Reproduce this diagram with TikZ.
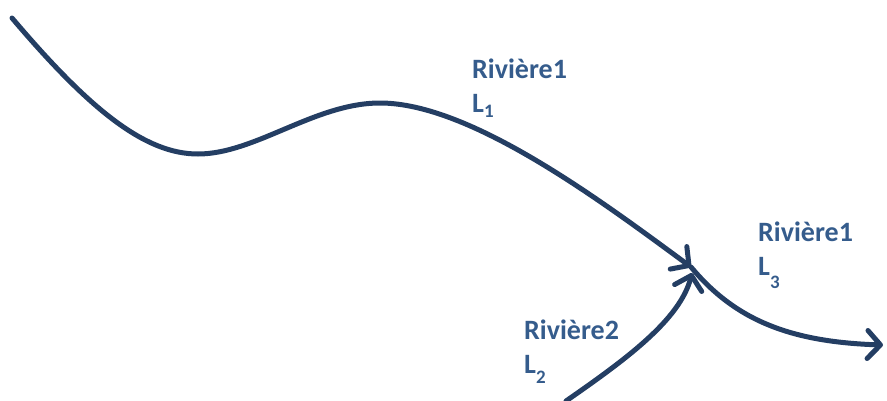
\documentclass[tikz,border=0pt]{standalone}
\usepackage{fontspec}
\setmainfont{Carlito}
\usetikzlibrary{arrows.meta}
\definecolor{rivline}{HTML}{243E63}
\definecolor{rivtext}{HTML}{355C8C}
\newcommand{\lsub}[2]{\raisebox{-#1pt}{\fontsize{19}{19}\selectfont #2}}
\begin{document}
\begin{tikzpicture}[x=1pt,y=-1pt,
  river/.style={draw=rivline,line width=5pt,line cap=round,
    -{Straight Barb[length=13pt,width=28pt,line width=5pt,round]}},
  lab/.style={text=rivtext,font=\bfseries\fontsize{28}{34}\selectfont,align=left,anchor=base west,inner sep=0pt}]
\useasboundingbox (0,0) rectangle (887,400);
\coordinate (s1) at (12,18);
\coordinate (m1) at (198,154);
\coordinate (m2) at (380,103);
\coordinate (j) at (691,267);
\coordinate (s2) at (566,401);
\coordinate (j2) at (692,273);
\coordinate (e) at (883,345);
\draw[river] (s1) .. controls (90,110) and (145,154) .. (m1)
  .. controls (255,154) and (315,103) .. (m2)
  .. controls (470,103) and (600,200) .. (j);
\draw[river] (s2) .. controls (625,360) and (680,320) .. (j2);
\draw[river] (j) .. controls (735,320) and (790,342) .. (e);
\node[lab] (t1) at (472,112) {Rivière1\\L\lsub{5}{1}};
\node[lab] (t3) at (758,275) {Rivière1\\L\lsub{13}{3}};
\node[lab] (t2) at (524,373) {Rivière2\\L\lsub{10}{2}};
\end{tikzpicture}
\end{document}
